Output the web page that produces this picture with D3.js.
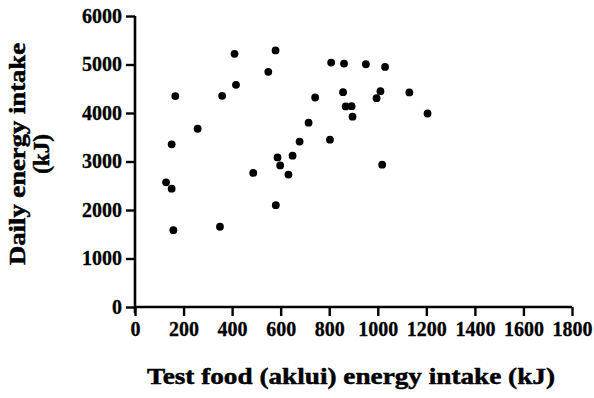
<!DOCTYPE html>
<html>
<head>
<meta charset="utf-8">
<script src="https://cdn.jsdelivr.net/npm/d3@7"></script>
<style>
  html, body { margin: 0; padding: 0; background: #fff; }
  svg text { font-family: "Liberation Serif", "Times New Roman", serif; font-weight: bold; fill: #000; }
</style>
</head>
<body>
<svg id="chart" width="594" height="398"></svg>
<script>
// test food (aklui) energy intake, kJ
const testFoodKJ = [128, 151, 158, 151, 166, 258, 350, 359, 410, 416, 487, 549, 579, 580, 587, 598,
  632, 649, 678, 715, 742, 803, 808, 861, 857, 868, 892, 896, 951, 1011, 995, 1030, 1018, 1130, 1205];
// daily energy intake, kJ
const dailyKJ = [2570, 2440, 1585, 3355, 4350, 3675, 1655, 4355, 5220, 4580, 2765, 4850, 5290, 2100, 3085, 2920,
  2730, 3120, 3410, 3800, 4320, 3450, 5040, 5020, 4430, 4135, 4140, 3925, 5005, 4450, 4305, 4950, 2935, 4425, 3990];

const xTicks = [0, 200, 400, 600, 800, 1000, 1200, 1400, 1600, 1800];
const yTicks = [0, 1000, 2000, 3000, 4000, 5000, 6000];

const margin = { left: 135, top: 16, right: 22, bottom: 91 };
const width = 594 - margin.left - margin.right;
const height = 398 - margin.top - margin.bottom;

const svg = d3.select('#chart');
const g = svg.append('g').attr('transform', `translate(${margin.left},${margin.top})`);

const x = d3.scaleLinear().domain([0, 1800]).range([0, width]);
const y = d3.scaleLinear().domain([0, 6000]).range([height, 0]);

const xAxis = g.append('g')
  .attr('transform', `translate(0,${height})`)
  .call(d3.axisBottom(x).tickValues(xTicks).tickSize(9).tickPadding(6).tickFormat(d3.format('d')));

const yAxis = g.append('g')
  .call(d3.axisLeft(y).tickValues(yTicks).tickSize(9).tickPadding(4).tickFormat(d3.format('d')));

[xAxis, yAxis].forEach(a => {
  a.selectAll('.tick line').attr('stroke', '#000').attr('stroke-width', 2.4);
  a.selectAll('.tick text').style('font-size', '20px').style('font-family', '"Liberation Serif", serif')
    .style('font-weight', 'bold').attr('stroke', '#000').attr('stroke-width', 0.3);
});
xAxis.select('.domain').attr('stroke', '#000').attr('stroke-width', 2.6).attr('d', `M0,0H${width}`);
yAxis.select('.domain').attr('stroke', '#000').attr('stroke-width', 2.6).attr('d', `M0,${height + 6}V0`);

g.selectAll('circle.pt')
  .data(testFoodKJ.map((v, i) => ({ x: v, y: dailyKJ[i] })))
  .enter().append('circle')
  .attr('class', 'pt')
  .attr('cx', d => x(d.x))
  .attr('cy', d => y(d.y))
  .attr('r', 3.9)
  .attr('fill', '#000');

svg.append('text')
  .attr('x', 147)
  .attr('y', 384)
  .attr('textLength', 408)
  .attr('lengthAdjust', 'spacingAndGlyphs')
  .attr('stroke', '#000').attr('stroke-width', 0.5)
  .style('font-size', '24px')
  .text('Test food (aklui) energy intake (kJ)');

const yTitle = svg.append('text')
  .attr('transform', 'translate(0,154) rotate(-90)')
  .attr('text-anchor', 'middle')
  .attr('stroke', '#000').attr('stroke-width', 0.5)
  .style('font-size', '23px');
yTitle.append('tspan').attr('x', 0).attr('y', 25)
  .attr('textLength', 222).attr('lengthAdjust', 'spacingAndGlyphs')
  .text('Daily energy intake');
yTitle.append('tspan').attr('x', 0).attr('y', 49).text('(kJ)');
</script>
</body>
</html>
